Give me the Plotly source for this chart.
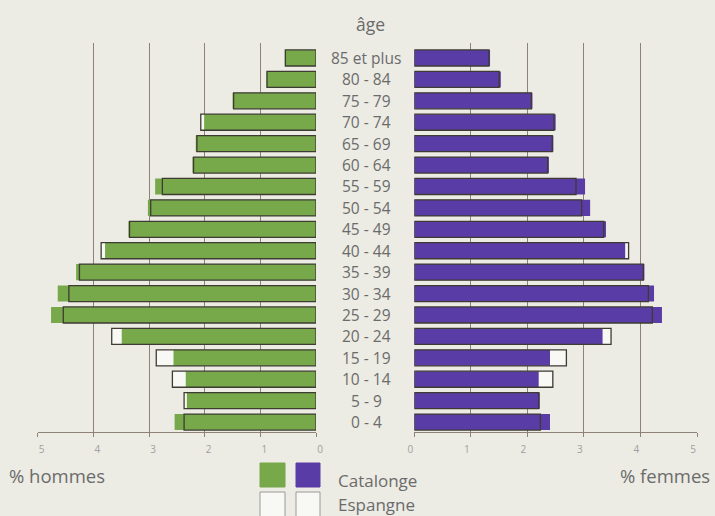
import plotly.graph_objects as go

# ---- data (ordered bottom to top) ----
age_groups = ["0 - 4", "5 - 9", "10 - 14", "15 - 19", "20 - 24", "25 - 29", "30 - 34",
              "35 - 39", "40 - 44", "45 - 49", "50 - 54", "55 - 59", "60 - 64",
              "65 - 69", "70 - 74", "75 - 79", "80 - 84", "85 et plus"]
hommes_catalogne = [2.54, 2.32, 2.34, 2.56, 3.49, 4.76, 4.64, 4.31, 3.79, 3.37,
                    3.02, 2.89, 2.22, 2.16, 2.01, 1.50, 0.89, 0.56]
hommes_espagne = [2.37, 2.37, 2.58, 2.87, 3.67, 4.54, 4.44, 4.25, 3.86, 3.35,
                  2.97, 2.76, 2.20, 2.14, 2.07, 1.48, 0.88, 0.55]
femmes_catalogne = [2.40, 2.22, 2.20, 2.40, 3.33, 4.38, 4.24, 4.07, 3.73, 3.39,
                    3.11, 3.02, 2.38, 2.46, 2.50, 2.09, 1.53, 1.34]
femmes_espagne = [2.23, 2.20, 2.45, 2.69, 3.48, 4.21, 4.14, 4.05, 3.79, 3.35,
                  2.96, 2.86, 2.36, 2.44, 2.47, 2.07, 1.50, 1.32]
tick_values = [0, 1, 2, 3, 4, 5]

W, H = 715, 516
BG = "#ecebe4"
GREEN = "#77a84a"
PURPLE = "#5a3ca6"
OUTLINE = "#3d3b32"
WHITE = "#f8f8f4"
GRID = "#8e8177"
TXT = "#6b6b6b"
FONT = "Open Sans"

ypos = list(range(len(age_groups)))
BW = 0.75

fig = go.Figure()
for xa, cat, esp, col in [("x", hommes_catalogne, hommes_espagne, GREEN),
                          ("x2", femmes_catalogne, femmes_espagne, PURPLE)]:
    fig.add_trace(go.Bar(x=esp, y=ypos, orientation="h", width=BW, xaxis=xa, yaxis="y",
                         marker=dict(color=WHITE, line=dict(width=0)), hoverinfo="skip",
                         showlegend=False))
    fig.add_trace(go.Bar(x=cat, y=ypos, orientation="h", width=BW, xaxis=xa, yaxis="y",
                         marker=dict(color=col, line=dict(width=0)), showlegend=False))
    fig.add_trace(go.Bar(x=esp, y=ypos, orientation="h", width=BW, xaxis=xa, yaxis="y",
                         marker=dict(color="rgba(0,0,0,0)", line=dict(width=1.3, color=OUTLINE)),
                         hoverinfo="skip", showlegend=False))

axis_common = dict(
    tickvals=tick_values, ticktext=[str(v) for v in tick_values],
    showgrid=True, gridcolor=GRID, gridwidth=1,
    zeroline=False, showline=True, linecolor=GRID, linewidth=1,
    ticks="outside", ticklen=4, tickcolor=GRID,
    tickfont=dict(family=FONT, size=10, color="#a0a0a0"),
    ticklabelshift=-4, ticklabelstandoff=4, automargin=False,
)

fig.update_layout(
    template="none",
    width=W, height=H, autosize=False,
    margin=dict(l=0, r=0, t=0, b=0, pad=0),
    paper_bgcolor=BG, plot_bgcolor=BG,
    barmode="overlay",
    xaxis=dict(domain=[37.7 / W, 316 / W], range=[5, 0], anchor="y", **axis_common),
    xaxis2=dict(domain=[414.3 / W, 697 / W], range=[0, 5], anchor="y", **axis_common),
    yaxis=dict(domain=[(H - 431.7) / H, (H - 43) / H], range=[-0.45, 17.7],
               visible=False, showgrid=False, automargin=False),
)

# age labels in the middle
for yv, lab in zip(ypos, age_groups):
    fig.add_annotation(x=366 / W, xref="paper", y=yv, yref="y", text=lab, showarrow=False,
                       xanchor="center", yanchor="middle",
                       font=dict(family=FONT, size=15.5, color=TXT))

def ann(x, y, text, size, anchor="left"):
    fig.add_annotation(x=x / W, y=1 - y / H, xref="paper", yref="paper", text=text,
                       showarrow=False, xanchor=anchor, yanchor="middle",
                       font=dict(family=FONT, size=size, color=TXT))

ann(370, 24, "âge", 17.5, "center")
ann(7, 475, "% hommes", 18.5)
ann(618, 475, "% femmes", 18.5)
ann(336, 480, "Catalonge", 17)
ann(336, 504, "Espangne", 17)

def box(x0, y0, x1, y1, fill, line):
    fig.add_shape(type="rect", xref="paper", yref="paper",
                  x0=x0 / W, x1=x1 / W, y0=1 - y1 / H, y1=1 - y0 / H,
                  fillcolor=fill, line=dict(color=line, width=1))

box(260, 463, 285, 487, GREEN, GREEN)
box(296, 463, 320, 487, PURPLE, PURPLE)
box(260, 492, 285, 517, WHITE, "#9a9a9a")
box(296, 492, 320, 517, WHITE, "#9a9a9a")

fig.write_html("out.html", config={"responsive": False, "displayModeBar": False},
               post_script="document.body.style.margin='0px';document.body.style.overflow='hidden';")
